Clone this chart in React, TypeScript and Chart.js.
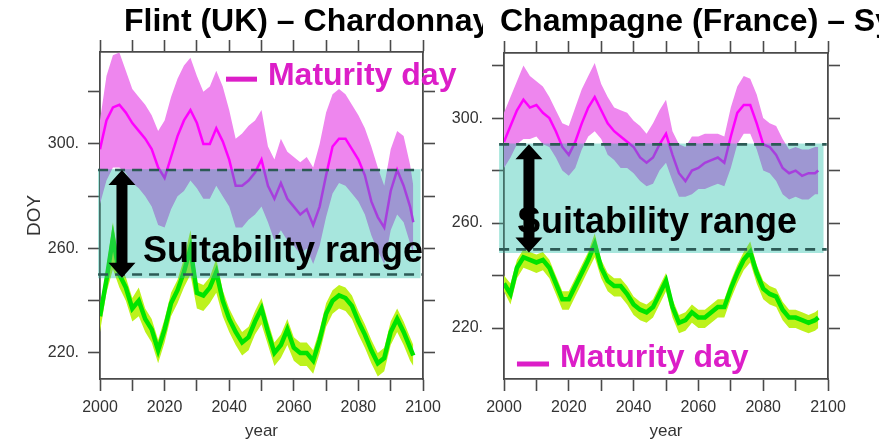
import React, { useEffect, useRef } from "react";
import { Chart, registerables } from "chart.js";
Chart.register(...registerables);

// ---------- data ----------
const years = [
  2000, 2002, 2004, 2006, 2008, 2010, 2012, 2014, 2016, 2018,
  2020, 2022, 2024, 2026, 2028, 2030, 2032, 2034, 2036, 2038,
  2040, 2042, 2044, 2046, 2048, 2050, 2052, 2054, 2056, 2058,
  2060, 2062, 2064, 2066, 2068, 2070, 2072, 2074, 2076, 2078,
  2080, 2082, 2084, 2086, 2088, 2090, 2092, 2094, 2096, 2097,
];

// Flint (UK) – Chardonnay
const flintMaturity = [
  298, 309, 314, 315, 312, 308, 305, 302, 298, 291,
  287, 295, 303, 309, 313, 308, 300, 300, 306, 301,
  294, 284, 284, 286, 289, 294, 284, 279, 285, 279,
  276, 273, 275, 269, 276, 288, 299, 302, 302, 298,
  294, 288, 278, 272, 268, 282, 290, 284, 276, 270,
];
const flintMaturityHigh = [
  309, 326, 334, 335, 328, 321, 318, 315, 311, 305,
  309, 318, 325, 330, 333, 326, 320, 322, 328, 322,
  313, 302, 304, 307, 309, 313, 299, 294, 302, 297,
  295, 293, 295, 291, 300, 312, 319, 321, 319, 315,
  311, 306, 299, 291, 284, 298, 305, 303, 292, 284,
];
const flintMaturityLow = [
  277, 286, 291, 291, 289, 285, 283, 280, 276, 269,
  268, 275, 280, 282, 286, 283, 279, 279, 284, 280,
  276, 268, 268, 271, 273, 276, 270, 263, 267, 263,
  261, 258, 260, 254, 261, 272, 281, 285, 284, 281,
  278, 273, 265, 259, 254, 267, 273, 270, 262, 258,
];
const flintGreen = [
  234, 248, 264, 250, 245, 237, 240, 233, 229, 221,
  229, 239, 244, 251, 260, 243, 242, 245, 251, 240,
  233, 228, 224, 226, 232, 237, 228, 220, 223, 229,
  222, 220, 220, 217, 225, 235, 240, 242, 241, 238,
  232, 227, 221, 216, 218, 228, 233, 228, 222, 219,
];
const flintGreenHigh = [
  238, 252, 270, 254, 249, 241, 245, 237, 233, 225,
  233, 243, 248, 256, 267, 247, 246, 249, 256, 244,
  237, 232, 228, 230, 236, 241, 232, 224, 227, 233,
  226, 224, 224, 221, 229, 239, 244, 246, 245, 242,
  236, 231, 225, 220, 222, 232, 237, 232, 226, 223,
];
const flintGreenLow = [
  228, 243, 252, 245, 240, 232, 234, 228, 224, 216,
  224, 234, 239, 245, 250, 237, 236, 239, 243, 234,
  228, 223, 219, 221, 227, 231, 223, 215, 218, 223,
  217, 215, 215, 212, 220, 230, 235, 237, 236, 233,
  227, 222, 216, 211, 213, 223, 228, 223, 217, 215,
];

// Champagne (France)
const champMaturity = [
  291, 297, 303, 307, 304, 305, 302, 300, 295, 289,
  286, 291, 298, 304, 308, 303, 298, 295, 293, 291,
  289, 285, 283, 285, 290, 294, 286, 279, 276, 280,
  281, 283, 284, 285, 283, 293, 302, 305, 305, 298,
  290, 289, 286, 281, 279, 280, 278, 279, 279, 280,
];
const champMaturityHigh = [
  302, 308, 314, 320, 316, 314, 312, 308, 303, 298,
  297, 304, 311, 316, 321, 313, 308, 304, 303, 302,
  299, 297, 294, 298, 303, 307, 295, 290, 289, 293,
  293, 294, 294, 294, 293, 304, 312, 316, 315, 309,
  300, 298, 297, 292, 288, 289, 288, 288, 289, 289,
];
const champMaturityLow = [
  281, 285, 290, 292, 292, 293, 290, 289, 285, 280,
  278, 281, 288, 293, 295, 292, 286, 284, 281, 281,
  279, 276, 274, 275, 280, 283, 276, 270, 270, 271,
  273, 273, 274, 275, 274, 281, 290, 294, 294, 288,
  280, 279, 276, 271, 269, 270, 269, 269, 271, 271,
];
const champGreen = [
  237, 233, 243, 247, 246, 245, 246, 243, 237, 231,
  231, 236, 241, 246, 252, 243, 238, 236, 236, 233,
  229, 227, 226, 228, 233, 238, 228, 222, 223, 226,
  224, 224, 226, 228, 228, 235, 241, 246, 249, 241,
  235, 233, 232, 227, 224, 224, 223, 222, 223, 224,
];
const champGreenHigh = [
  240, 237, 246, 250, 249, 248, 249, 246, 240, 234,
  234, 239, 244, 249, 256, 246, 241, 239, 239, 236,
  232, 230, 229, 231, 236, 241, 231, 225, 226, 229,
  227, 227, 229, 231, 231, 238, 244, 249, 253, 244,
  238, 236, 235, 230, 227, 227, 226, 225, 226, 227,
];
const champGreenLow = [
  234, 229, 239, 243, 242, 241, 242, 239, 233, 227,
  227, 232, 237, 242, 247, 239, 234, 232, 232, 229,
  225, 223, 222, 224, 229, 234, 224, 218, 219, 222,
  220, 220, 222, 224, 224, 231, 237, 242, 245, 237,
  231, 229, 228, 223, 220, 220, 219, 218, 219, 220,
];

const suitabilityRange = [250, 290];
const yTickValues = [220, 240, 260, 280, 300, 320];
const yTickLabels = [220, 260, 300];
const xTickLabels = [2000, 2020, 2040, 2060, 2080, 2100];

// ---------- styles ----------
const FONT = '"Liberation Sans", Arial, Helvetica, sans-serif';
const AXIS = "#4a4a4a";
const MAG_BAND = "#ee86ee";
const MAG_LINE = "#ff00ff";
const GREEN_BAND = "#bdf21c";
const GREEN_LINE = "#00e400";
const TEAL_MULT = "rgb(200,240,235)";
const TEAL_WASH = "rgba(93,207,188,0.3)";
const DASH = "#2c5a55";
const LEGEND = "#dc1ec8";

type Panel = {
  key: string;
  canvasLeft: number;
  width: number;
  leftW: number;
  rightW: number;
  topH: number;
  yMin: number;
  yMax: number;
  showDOY: boolean;
  maturity: number[];
  maturityHigh: number[];
  maturityLow: number[];
  green: number[];
  greenHigh: number[];
  greenLow: number[];
  rectX0: number;
  rectX1: number;
  arrowYear: number;
  labelYear: number;
  labelValue: number;
  legendYear0: number;
  legendYear1: number;
  legendValue: number;
  legendTextYear: number;
  legendTextValue: number;
};

const panels: Panel[] = [
  {
    key: "flint",
    canvasLeft: 0,
    width: 470,
    leftW: 100,
    rightW: 47,
    topH: 52,
    yMin: 210,
    yMax: 335.2,
    showDOY: true,
    maturity: flintMaturity,
    maturityHigh: flintMaturityHigh,
    maturityLow: flintMaturityLow,
    green: flintGreen,
    greenHigh: flintGreenHigh,
    greenLow: flintGreenLow,
    rectX0: 1999.4,
    rectX1: 2099.2,
    arrowYear: 2006.8,
    labelYear: 2013.3,
    labelValue: 254.8,
    legendYear0: 2039,
    legendYear1: 2048.6,
    legendValue: 324.8,
    legendTextYear: 2052,
    legendTextValue: 322.4,
  },
  {
    key: "champ",
    canvasLeft: 440,
    width: 439,
    leftW: 64,
    rightW: 51,
    topH: 53,
    yMin: 200.6,
    yMax: 324.8,
    showDOY: false,
    maturity: champMaturity,
    maturityHigh: champMaturityHigh,
    maturityLow: champMaturityLow,
    green: champGreen,
    greenHigh: champGreenHigh,
    greenLow: champGreenLow,
    rectX0: 1998.5,
    rectX1: 2098.6,
    arrowYear: 2007.7,
    labelYear: 2004,
    labelValue: 256.2,
    legendYear0: 2004,
    legendYear1: 2013.9,
    legendValue: 206.3,
    legendTextYear: 2017.3,
    legendTextValue: 205.0,
  },
];

function PanelChart({ p }: { p: Panel }) {
  const ref = useRef<HTMLCanvasElement>(null);
  useEffect(() => {
    const pts = (vals: number[]) => years.map((x, i) => ({ x, y: vals[i] }));
    const setYTicks = (scale: any) => {
      scale.ticks = yTickValues.map((v) => ({ value: v }));
    };
    const overlay = {
      id: "suitOverlay",
      afterDatasetsDraw(chart: any) {
        const { ctx } = chart;
        const x = chart.scales.x;
        const y = chart.scales.y;
        ctx.save();
        // suitability band (tinted over the curves)
        const rx0 = x.getPixelForValue(p.rectX0);
        const rx1 = x.getPixelForValue(p.rectX1);
        const ryTop = y.getPixelForValue(suitabilityRange[1] + 0.3);
        const ryBot = y.getPixelForValue(suitabilityRange[0] - 1.4);
        ctx.globalCompositeOperation = "multiply";
        ctx.fillStyle = TEAL_MULT;
        ctx.fillRect(rx0, ryTop, rx1 - rx0, ryBot - ryTop);
        ctx.globalCompositeOperation = "source-over";
        ctx.fillStyle = TEAL_WASH;
        ctx.fillRect(rx0, ryTop, rx1 - rx0, ryBot - ryTop);
        // dashed range limits
        ctx.strokeStyle = DASH;
        ctx.lineWidth = 2.6;
        ctx.setLineDash([10, 7]);
        for (const v of suitabilityRange) {
          const yy = y.getPixelForValue(v);
          ctx.beginPath();
          ctx.moveTo(rx0, yy);
          ctx.lineTo(x.getPixelForValue(2099.6), yy);
          ctx.stroke();
        }
        ctx.setLineDash([]);
        // double arrow
        const ax = x.getPixelForValue(p.arrowYear);
        const aTop = y.getPixelForValue(suitabilityRange[1]);
        const aBot = y.getPixelForValue(suitabilityRange[0] - 1.2);
        const headW = 13.5;
        const headL = 15;
        const shaftW = 5.5;
        ctx.fillStyle = "#000";
        ctx.beginPath();
        ctx.moveTo(ax, aTop);
        ctx.lineTo(ax + headW, aTop + headL);
        ctx.lineTo(ax + shaftW, aTop + headL);
        ctx.lineTo(ax + shaftW, aBot - headL);
        ctx.lineTo(ax + headW, aBot - headL);
        ctx.lineTo(ax, aBot);
        ctx.lineTo(ax - headW, aBot - headL);
        ctx.lineTo(ax - shaftW, aBot - headL);
        ctx.lineTo(ax - shaftW, aTop + headL);
        ctx.lineTo(ax - headW, aTop + headL);
        ctx.closePath();
        ctx.fill();
        // label
        ctx.fillStyle = "#000";
        ctx.font = `bold 36px ${FONT}`;
        ctx.textBaseline = "alphabetic";
        ctx.textAlign = "left";
        ctx.fillText(
          "Suitability range",
          x.getPixelForValue(p.labelYear),
          y.getPixelForValue(p.labelValue)
        );
        // legend
        const ly = y.getPixelForValue(p.legendValue);
        ctx.strokeStyle = LEGEND;
        ctx.lineWidth = 5;
        ctx.beginPath();
        ctx.moveTo(x.getPixelForValue(p.legendYear0), ly);
        ctx.lineTo(x.getPixelForValue(p.legendYear1), ly);
        ctx.stroke();
        ctx.fillStyle = LEGEND;
        ctx.font = `bold 32px ${FONT}`;
        ctx.fillText(
          "Maturity day",
          x.getPixelForValue(p.legendTextYear),
          y.getPixelForValue(p.legendTextValue)
        );
        ctx.restore();
      },
    };

    const tickFont = { family: FONT, size: 16 };
    const gridCommon = {
      drawOnChartArea: false,
      drawTicks: true,
      tickLength: 12,
      tickColor: AXIS,
      tickWidth: 1.6,
    };
    const borderCommon = { display: true, color: AXIS, width: 1.8 };

    const chart = new Chart(ref.current as HTMLCanvasElement, {
      type: "line",
      data: {
        datasets: [
          { data: pts(p.green), borderColor: GREEN_LINE, borderWidth: 4.5, pointRadius: 0, fill: false },
          { data: pts(p.greenHigh), borderColor: "rgba(0,0,0,0)", borderWidth: 0, pointRadius: 0, fill: "+1", backgroundColor: GREEN_BAND },
          { data: pts(p.greenLow), borderColor: "rgba(0,0,0,0)", borderWidth: 0, pointRadius: 0, fill: false },
          { data: pts(p.maturity), borderColor: MAG_LINE, borderWidth: 2.5, pointRadius: 0, fill: false },
          { data: pts(p.maturityHigh), borderColor: "rgba(0,0,0,0)", borderWidth: 0, pointRadius: 0, fill: "+1", backgroundColor: MAG_BAND },
          { data: pts(p.maturityLow), borderColor: "rgba(0,0,0,0)", borderWidth: 0, pointRadius: 0, fill: false },
        ],
      } as any,
      options: {
        responsive: false,
        animation: false,
        devicePixelRatio: 1,
        events: [],
        layout: { padding: 0 },
        plugins: { legend: { display: false }, tooltip: { enabled: false } },
        scales: {
          x: {
            type: "linear",
            position: "bottom",
            min: 2000,
            max: 2100,
            afterFit: (s: any) => { s.height = 62; },
            ticks: {
              stepSize: 10,
              autoSkip: false,
              maxRotation: 0,
              padding: 7,
              color: "#333",
              font: tickFont,
              callback: (v: any) => (xTickLabels.includes(Number(v)) ? String(v) : ""),
            },
            grid: gridCommon,
            border: borderCommon,
            title: {
              display: true,
              text: "year",
              color: "#333",
              font: { family: FONT, size: 17, lineHeight: 1.1 },
              padding: { top: 0, bottom: 0 },
            },
          },
          xTop: {
            type: "linear",
            position: "top",
            min: 2000,
            max: 2100,
            afterFit: (s: any) => { s.height = p.topH; },
            ticks: { stepSize: 10, autoSkip: false, maxRotation: 0, callback: () => "" },
            grid: gridCommon,
            border: borderCommon,
          },
          y: {
            type: "linear",
            position: "left",
            min: p.yMin,
            max: p.yMax,
            afterBuildTicks: setYTicks,
            afterFit: (s: any) => { s.width = p.leftW; },
            ticks: {
              autoSkip: false,
              padding: 9,
              color: "#333",
              font: tickFont,
              callback: (v: any) => (yTickLabels.includes(Number(v)) ? `${v}.` : ""),
            },
            grid: gridCommon,
            border: borderCommon,
            title: {
              display: p.showDOY,
              text: "DOY",
              color: "#333",
              font: { family: FONT, size: 19 },
              padding: { top: 23, bottom: 0 },
            },
          },
          yRight: {
            type: "linear",
            position: "right",
            min: p.yMin,
            max: p.yMax,
            afterBuildTicks: setYTicks,
            afterFit: (s: any) => { s.width = p.rightW; },
            ticks: { autoSkip: false, callback: () => "" },
            grid: gridCommon,
            border: borderCommon,
          },
        },
      } as any,
      plugins: [overlay],
    });
    return () => chart.destroy();
  }, [p]);

  return (
    <canvas
      ref={ref}
      width={p.width}
      height={441}
      style={{ position: "absolute", left: p.canvasLeft, top: 0, width: p.width, height: 441 }}
    />
  );
}

const titleStyle: React.CSSProperties = {
  position: "absolute",
  top: 4,
  height: 40,
  overflow: "hidden",
  whiteSpace: "nowrap",
  fontFamily: FONT,
  fontWeight: "bold",
  fontSize: 32,
  lineHeight: "32px",
  color: "#000",
  boxSizing: "border-box",
};

export default function App() {
  return (
    <div
      style={{
        position: "fixed",
        left: 0,
        top: 0,
        width: 879,
        height: 441,
        background: "#fff",
        overflow: "hidden",
      }}
    >
      {panels.map((p) => (
        <PanelChart key={p.key} p={p} />
      ))}
      <div style={{ ...titleStyle, left: 0, width: 483, paddingLeft: 124 }}>
        Flint (UK) – Chardonnay
      </div>
      <div style={{ ...titleStyle, left: 500, width: 379 }}>
        Champagne (France) – Syrah
      </div>
    </div>
  );
}
